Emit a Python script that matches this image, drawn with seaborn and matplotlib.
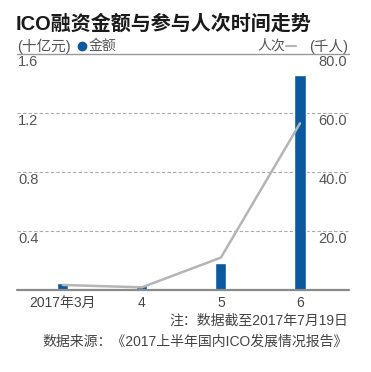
import numpy as np
import pandas as pd
import matplotlib
matplotlib.use("Agg")
import matplotlib.pyplot as plt
from matplotlib.lines import Line2D
import seaborn as sns

# ---- data ----
months = ["2017年3月", "4", "5", "6"]
amount = [0.05, 0.034, 0.18, 1.46]        # 十亿元
people = [1.7, 0.9, 11.0, 56.5]           # 千人
left_ticks = [0.4, 0.8, 1.2, 1.6]
right_ticks = ["20.0", "40.0", "60.0", "80.0"]
title = "ICO融资金额与参与人次时间走势"
note1 = "注：数据截至2017年7月19日"
note2 = "数据来源：《2017上半年国内ICO发展情况报告》"

sns.set_theme(style="white")
plt.rcParams['font.family'] = ['Liberation Sans', 'Noto Sans CJK SC', 'DejaVu Sans']

BLUE = "#0b5aa0"
LGRAY = "#b5b5b5"
TXT = "#555555"

W, H = 371, 372
fig = plt.figure(figsize=(W / 100, H / 100), dpi=100)
fig.patch.set_facecolor("white")

def fx(px):
    return px / W

def fy(py):
    return 1 - py / H

ax_l, ax_r, ax_t, ax_b = 17, 349, 54, 290
ax = fig.add_axes([fx(ax_l), fy(ax_b), fx(ax_r - ax_l), (ax_b - ax_t) / H])

df = pd.DataFrame({"month": months, "amount": amount, "people": people})
sns.barplot(data=df, x="month", y="amount", ax=ax, color=BLUE, width=0.14,
            saturation=1, zorder=3)
ax.set_xlim(-0.58, 3.62)
ax.set_ylim(0, 1.6)
for s in ax.spines.values():
    s.set_visible(False)
ax.set_yticks([])
ax.set_xlabel("")
ax.set_ylabel("")
ax.tick_params(axis="x", length=0, pad=4, labelsize=10, labelcolor="#444444")

# gridlines
for v in left_ticks[:-1]:
    ax.axhline(v, color="#aaaaaa", lw=0.8, ls=(0, (3, 2)), zorder=1)
ax.axhline(left_ticks[-1], color="#999999", lw=1.0, zorder=1, clip_on=False)
ax.axhline(0, color="#8a8a8a", lw=1.6, zorder=4, clip_on=False)

# tick labels inside plot
off = 8 / (ax_b - ax_t) * 1.6
for v, r in zip(left_ticks, right_ticks):
    ax.text(0.003, v - off, f"{v:.1f}", transform=ax.get_yaxis_transform(),
            ha="left", va="center", fontsize=10.5, color=TXT)
    ax.text(0.994, v - off, r, transform=ax.get_yaxis_transform(),
            ha="right", va="center", fontsize=10.5, color=TXT)

# line on twin axis
ax2 = ax.twinx()
sns.lineplot(x=np.arange(len(months)), y=people, ax=ax2, color=LGRAY, lw=1.8)
ax2.set_ylim(0, 80)
ax2.set_xlim(-0.58, 3.62)
ax2.set_yticks([])
for s in ax2.spines.values():
    s.set_visible(False)

# title and header
fig.text(fx(16), fy(24), title, fontsize=14.4, fontweight="bold",
         color="#1a1a1a", ha="left", va="center")
fig.text(fx(17), fy(46), "(十亿元)", fontsize=10.5, color=TXT, ha="left", va="center")
fig.add_artist(Line2D([fx(82)], [fy(46)], marker="o", markersize=6,
                      color=BLUE, transform=fig.transFigure))
fig.text(fx(89), fy(46), "金额", fontsize=10, color=TXT, ha="left", va="center")
fig.text(fx(348), fy(46), "(千人)", fontsize=10.5, color=TXT, ha="right", va="center")
fig.add_artist(Line2D([fx(286), fx(296)], [fy(46), fy(46)], color=LGRAY, lw=1.5,
                      transform=fig.transFigure))
fig.text(fx(285), fy(46), "人次", fontsize=10, color=TXT, ha="right", va="center")

# notes
fig.text(fx(348), fy(321), note1, fontsize=10, color="#444444", ha="right", va="center")
fig.text(fx(348), fy(342), note2, fontsize=10, color="#444444", ha="right", va="center")

fig.savefig("out.png", dpi=100, facecolor="white")
